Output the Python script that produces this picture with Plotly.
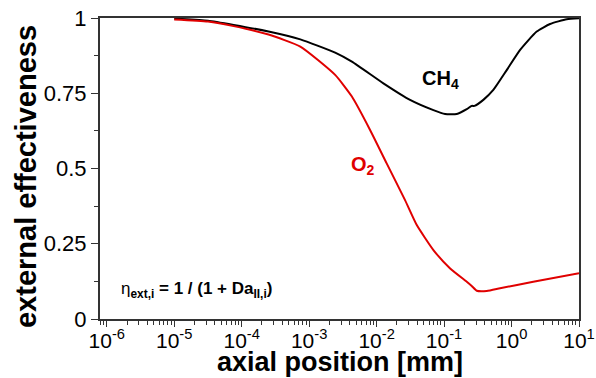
import plotly.graph_objects as go

# axial position [mm]
x_ch4 = [1e-5, 3.16e-5, 7.6e-5, 2.5e-4, 7.4e-4, 2.43e-3, 4.3e-3, 1.26e-2, 3.13e-2,
         6.95e-2, 0.1035, 0.154, 0.217, 0.257, 0.282, 0.382, 0.537, 0.849, 1.34,
         2.36, 3.72, 6.58, 10.0]
eta_ch4 = [0.998, 0.991, 0.977, 0.955, 0.929, 0.885, 0.855, 0.783, 0.728,
           0.694, 0.681, 0.681, 0.697, 0.708, 0.708, 0.728, 0.761, 0.827, 0.894,
           0.955, 0.980, 0.996, 0.999]

x_o2 = [1e-5, 3.16e-5, 7.6e-5, 2.5e-4, 7.4e-4, 2.43e-3, 4.3e-3, 8.0e-3, 1.41e-2,
        2.64e-2, 3.94e-2, 6.95e-2, 0.123, 0.217, 0.257, 0.305, 0.43, 0.676, 2.1, 10.0]
eta_o2 = [0.995, 0.988, 0.973, 0.945, 0.905, 0.811, 0.739, 0.628, 0.517,
          0.395, 0.312, 0.229, 0.168, 0.124, 0.110, 0.094, 0.093, 0.102, 0.124, 0.152]

x_tickvals = [1e-6, 1e-5, 1e-4, 1e-3, 1e-2, 1e-1, 1e0, 1e1]
x_ticktext = ["10<sup>-6</sup>", "10<sup>-5</sup>", "10<sup>-4</sup>", "10<sup>-3</sup>",
              "10<sup>-2</sup>", "10<sup>-1</sup>", "10<sup>0</sup>", "10<sup>1</sup>"]
y_ticks = [0, 0.25, 0.5, 0.75, 1]
y_ticktext = ["0", "0.25", "0.5", "0.75", "1"]

fig = go.Figure()
fig.add_trace(go.Scatter(x=x_ch4, y=eta_ch4, mode="lines",
                         line=dict(color="black", width=2, shape="spline", smoothing=0.5),
                         showlegend=False))
fig.add_trace(go.Scatter(x=x_o2, y=eta_o2, mode="lines",
                         line=dict(color="#e00000", width=2, shape="spline", smoothing=0.5),
                         showlegend=False))

font_family = "Liberation Sans, Arial, sans-serif"

fig.update_layout(
    width=596, height=378,
    margin=dict(l=100, r=17, t=18, b=59),
    plot_bgcolor="white", paper_bgcolor="white",
    font=dict(family=font_family, color="black"),
    xaxis=dict(
        type="log", range=[-6.1, 1], tickvals=x_tickvals, ticktext=x_ticktext,
        showgrid=False, zeroline=False, automargin=False,
        showline=True, linecolor="#333", linewidth=2, mirror=True,
        ticks="outside", ticklen=6, tickwidth=1, tickcolor="#333",
        ticklabelstandoff=-4,
        tickfont=dict(size=21, family=font_family),
        minor=dict(ticks="outside", ticklen=4, tickwidth=1, tickcolor="#333", dtick="D1", showgrid=False),
    ),
    yaxis=dict(
        range=[0, 1], tickvals=y_ticks, ticktext=y_ticktext,
        showgrid=False, zeroline=False, automargin=False,
        showline=True, linecolor="#333", linewidth=2, mirror=True,
        ticks="outside", ticklen=7, tickwidth=1, tickcolor="#333",
        tickfont=dict(size=22, family=font_family),
        minor=dict(ticks="outside", ticklen=4, tickwidth=1, tickcolor="#333", dtick=0.125, showgrid=False),
    ),
    annotations=[
        dict(x=0.5, y=-0.143, xref="paper", yref="paper", yanchor="middle",
             text="<b>axial position [mm]</b>", showarrow=False,
             font=dict(size=27, color="black", family=font_family)),
        dict(x=-0.1545, y=0.475, xref="paper", yref="paper", xanchor="center", yanchor="middle",
             text="<b>external effectiveness</b>", showarrow=False, textangle=-90,
             font=dict(size=29, color="black", family=font_family)),
        dict(x=-1.05, y=0.795, xref="x", yref="y", text="<b>CH<sub>4</sub></b>",
             showarrow=False, font=dict(size=20, color="black", family=font_family)),
        dict(x=-2.2, y=0.51, xref="x", yref="y", text="<b>O<sub>2</sub></b>",
             showarrow=False, font=dict(size=20, color="#e00000", family=font_family)),
        dict(x=-5.82, y=0.095, xref="x", yref="y", xanchor="left",
             text="η<sub><b>ext,i</b></sub><b> = 1 / (1 + Da<sub>II,i</sub>)</b>",
             showarrow=False, font=dict(size=17, color="black", family=font_family)),
    ],
)

fig.write_html("out.html")
